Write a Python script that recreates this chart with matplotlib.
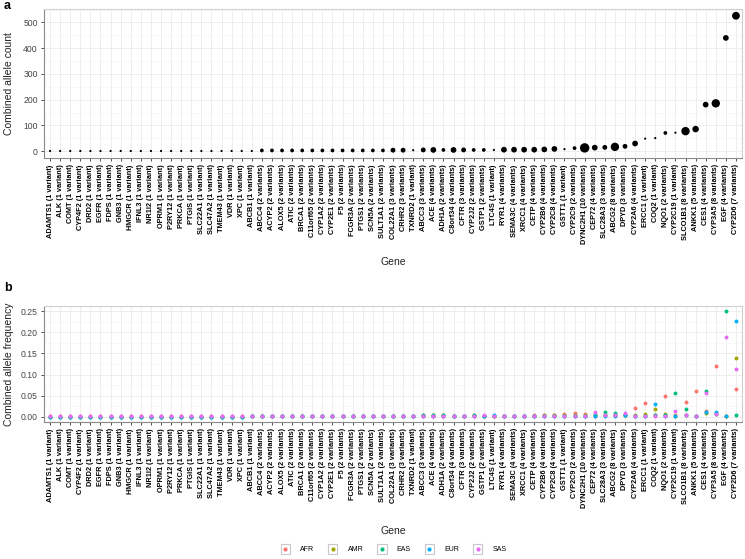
import matplotlib.pyplot as plt
import numpy as np
from matplotlib.patches import Rectangle
from matplotlib.lines import Line2D
from matplotlib.legend_handler import HandlerBase
from matplotlib.ticker import MultipleLocator, FormatStrFormatter

plt.rcParams['font.family'] = ['Liberation Sans', 'DejaVu Sans']

genes = ['ADAMTS1', 'ALK', 'COMT', 'CYP4F2', 'DRD2', 'EGFR', 'FDPS', 'GNB3', 'HMGCR', 'IFNL3',
         'NR1I2', 'OPRM1', 'P2RY12', 'PRKCA', 'PTGIS', 'SLC22A1', 'SLC47A2', 'TMEM43', 'VDR', 'XPC',
         'ABCB1', 'ABCC4', 'ACYP2', 'ALOX5', 'ATIC', 'BRCA1', 'C11orf65', 'CYP1A2', 'CYP2E1', 'F5',
         'FCGR3A', 'PTGS1', 'SCN5A', 'SULT1A1', 'COL22A1', 'CRHR2', 'TXNRD2', 'ABCC3', 'ACE', 'ADH1A',
         'C8orf34', 'CFTR', 'CYP2J2', 'GSTP1', 'LTC4S', 'RYR1', 'SEMA3C', 'XRCC1', 'CETP', 'CYP2B6',
         'CYP2C8', 'GSTT1', 'CYP2C9', 'DYNC2H1', 'CEP72', 'SLC28A3', 'ABCG2', 'DPYD', 'CYP2A6', 'ERCC1',
         'COQ2', 'NQO1', 'CYP2C19', 'SLCO1B1', 'ANKK1', 'CES1', 'CYP3A5', 'EGF', 'CYP2D6']

n_variants = [1, 1, 1, 1, 1, 1, 1, 1, 1, 1,
              1, 1, 1, 1, 1, 1, 1, 1, 1, 1,
              1, 2, 2, 2, 2, 2, 2, 2, 2, 2,
              2, 2, 2, 2, 3, 3, 1, 3, 4, 2,
              4, 3, 2, 2, 1, 4, 4, 4, 4, 4,
              4, 1, 2, 10, 4, 3, 8, 3, 4, 1,
              1, 2, 1, 8, 5, 4, 8, 4, 7]

allele_count = [1, 1, 1, 1, 1, 1, 1, 1, 1, 1,
                1, 1, 1, 1, 1, 1, 1, 1, 1, 1,
                1, 3, 3, 3, 3, 3, 3, 3, 3, 3,
                3, 3, 3, 3, 4, 4, 4, 5, 5, 5,
                5, 5, 5, 5, 5, 6, 6, 6, 6, 7,
                9, 8, 12, 13, 14, 15, 17, 19, 30, 49,
                51, 71, 72, 78, 86, 181, 186, 440, 526]

# allele frequency per super-population
afr = [0.001, 0.001, 0.001, 0.001, 0.001, 0.001, 0.001, 0.001, 0.001, 0.001,
       0.001, 0.001, 0.001, 0.001, 0.001, 0.001, 0.001, 0.001, 0.001, 0.001,
       0.001, 0.001, 0.001, 0.001, 0.001, 0.001, 0.001, 0.001, 0.001, 0.001,
       0.001, 0.001, 0.001, 0.001, 0.002, 0.002, 0.002, 0.002, 0.002, 0.002,
       0.002, 0.002, 0.002, 0.002, 0.002, 0.002, 0.002, 0.002, 0.003, 0.003,
       0.004, 0.006, 0.009, 0.007, 0.002, 0.003, 0.004, 0.005, 0.021, 0.033,
       0.004, 0.048, 0.003, 0.036, 0.062, 0.014, 0.121, 0.002, 0.066]
amr = [0.000, 0.000, 0.000, 0.000, 0.000, 0.000, 0.000, 0.000, 0.000, 0.000,
       0.000, 0.000, 0.000, 0.000, 0.000, 0.000, 0.000, 0.000, 0.000, 0.000,
       0.001, 0.001, 0.001, 0.001, 0.001, 0.001, 0.001, 0.001, 0.001, 0.001,
       0.001, 0.001, 0.001, 0.001, 0.001, 0.001, 0.001, 0.003, 0.003, 0.003,
       0.002, 0.002, 0.003, 0.002, 0.002, 0.002, 0.002, 0.002, 0.002, 0.003,
       0.003, 0.003, 0.003, 0.003, 0.003, 0.003, 0.004, 0.005, 0.003, 0.007,
       0.019, 0.006, 0.002, 0.004, 0.002, 0.008, 0.008, 0.002, 0.139]
eas = [0.000, 0.000, 0.000, 0.000, 0.000, 0.000, 0.000, 0.000, 0.000, 0.000,
       0.000, 0.000, 0.000, 0.000, 0.000, 0.000, 0.000, 0.000, 0.000, 0.000,
       0.002, 0.001, 0.001, 0.001, 0.001, 0.001, 0.001, 0.001, 0.001, 0.001,
       0.001, 0.002, 0.001, 0.001, 0.001, 0.001, 0.001, 0.003, 0.003, 0.003,
       0.002, 0.002, 0.003, 0.002, 0.002, 0.001, 0.001, 0.001, 0.001, 0.002,
       0.002, 0.001, 0.002, 0.002, 0.003, 0.011, 0.009, 0.004, 0.002, 0.002,
       0.004, 0.003, 0.056, 0.018, 0.001, 0.060, 0.007, 0.251, 0.003]
eur = [0.000, 0.000, 0.000, 0.000, 0.000, 0.000, 0.000, 0.000, 0.000, 0.000,
       0.000, 0.000, 0.000, 0.000, 0.000, 0.000, 0.000, 0.000, 0.000, 0.000,
       0.001, 0.001, 0.001, 0.001, 0.001, 0.001, 0.001, 0.001, 0.001, 0.001,
       0.001, 0.001, 0.001, 0.001, 0.001, 0.001, 0.001, 0.002, 0.002, 0.002,
       0.001, 0.002, 0.002, 0.001, 0.004, 0.001, 0.001, 0.001, 0.001, 0.001,
       0.001, 0.001, 0.001, 0.001, 0.001, 0.002, 0.002, 0.004, 0.001, 0.001,
       0.030, 0.002, 0.001, 0.004, 0.001, 0.012, 0.012, 0.001, 0.226]
sas = [0.001, 0.001, 0.001, 0.001, 0.001, 0.001, 0.001, 0.001, 0.001, 0.001,
       0.001, 0.001, 0.001, 0.001, 0.001, 0.001, 0.001, 0.001, 0.001, 0.001,
       0.002, 0.001, 0.001, 0.001, 0.001, 0.001, 0.001, 0.001, 0.001, 0.001,
       0.001, 0.002, 0.001, 0.001, 0.001, 0.001, 0.002, 0.002, 0.002, 0.002,
       0.001, 0.001, 0.001, 0.003, 0.001, 0.001, 0.001, 0.001, 0.001, 0.002,
       0.002, 0.001, 0.001, 0.001, 0.011, 0.004, 0.004, 0.009, 0.001, 0.001,
       0.002, 0.002, 0.013, 0.005, 0.001, 0.056, 0.006, 0.190, 0.113]

populations = ['AFR', 'AMR', 'EAS', 'EUR', 'SAS']
pop_colors = ['#F8766D', '#A3A500', '#00BF7D', '#00B0F6', '#E76BF3']

labels = [f"{g} ({n} variant{'s' if n > 1 else ''})" for g, n in zip(genes, n_variants)]
x = np.arange(len(genes))


class KeyBox(HandlerBase):
    # ggplot style legend key: grey square with a dot in it
    def create_artists(self, legend, orig_handle, xdescent, ydescent, width, height, fontsize, trans):
        side = height
        x0 = -xdescent + (width - side) / 2
        y0 = -ydescent
        box = Rectangle((x0, y0), side, side, facecolor='white', edgecolor='#C8C8C8',
                        linewidth=0.8, transform=trans)
        dot = Line2D([x0 + side / 2], [y0 + side / 2], marker='o', markersize=2.0,
                     linestyle='none', color=orig_handle.get_color(), transform=trans)
        return [box, dot]


def style_axes(ax, ymin, ymax, major, minor, fmt):
    ax.set_xlim(-0.6, len(genes) - 1 + 0.6)
    pad = (ymax - ymin) * 0.05
    ax.set_ylim(ymin - pad, ymax + pad)
    ax.set_xticks(x)
    ax.set_xticklabels(labels, rotation=90, fontsize=5.3, fontweight='bold', ha='center', va='top')
    ax.yaxis.set_major_locator(MultipleLocator(major))
    ax.yaxis.set_minor_locator(MultipleLocator(minor))
    ax.yaxis.set_major_formatter(FormatStrFormatter(fmt))
    ax.tick_params(axis='y', labelsize=6.2, labelcolor='#444444', length=2.5, width=0.6, color='#333333', pad=2)
    ax.tick_params(axis='x', length=2.5, width=0.6, color='#333333', pad=2)
    ax.tick_params(axis='y', which='minor', length=0)
    ax.grid(True, which='major', color='#EBEBEB', linewidth=0.6)
    ax.grid(True, which='minor', axis='y', color='#F3F3F3', linewidth=0.4)
    ax.set_axisbelow(True)
    for side in ['top', 'right']:
        ax.spines[side].set_color('#D0D0D0')
        ax.spines[side].set_linewidth(0.8)
    for side in ['left', 'bottom']:
        ax.spines[side].set_color('#8A8A8A')
        ax.spines[side].set_linewidth(0.8)


fig = plt.figure(figsize=(7.45, 5.59), dpi=100)
W, H = 745, 559
ax_a = fig.add_axes([44 / W, 1 - 158 / H, 698 / W, 149 / H])
ax_b = fig.add_axes([44 / W, 1 - 422 / H, 698 / W, 116.5 / H])

# panel a: combined allele count, dot size by number of variants
sizes = np.interp(n_variants, [1, 10], [2.5, 46.0])
ax_a.scatter(x, allele_count, s=sizes, color='black', linewidths=0, zorder=3)
style_axes(ax_a, 0, max(allele_count), 100, 50, '%d')
ax_a.set_ylabel('Combined allele count', fontsize=7.5, color='#222222')
ax_a.yaxis.set_label_coords(-0.043, 0.5)
ax_a.set_xlabel('Gene', fontsize=7.5, color='#222222')
ax_a.xaxis.set_label_coords(0.5, -0.665)

# panel b: allele frequency per population
pop_values = [afr, amr, eas, eur, sas]
for vals, col, pop in zip(pop_values, pop_colors, populations):
    ax_b.scatter(x, vals, s=8, color=col, linewidths=0, zorder=3, label=pop)
top_b = max(max(v) for v in pop_values)
style_axes(ax_b, 0, top_b, 0.05, 0.025, '%.2f')
ax_b.set_ylabel('Combined allele frequency', fontsize=7.5, color='#222222')
ax_b.yaxis.set_label_coords(-0.043, 0.5)
ax_b.set_xlabel('Gene', fontsize=7.5, color='#222222')
ax_b.xaxis.set_label_coords(0.5, -0.895)

fig.text(4 / W, 1 - 6 / H, 'a', fontsize=9, fontweight='bold', va='center', ha='left')
fig.text(4 / W, 1 - 288 / H, 'b', fontsize=9, fontweight='bold', va='center', ha='left')

handles = [Line2D([], [], color=c, marker='o', linestyle='none') for c in pop_colors]
fig.legend(handles, populations, loc='center', bbox_to_anchor=(393 / W, 1 - 549 / H),
           ncol=5, frameon=False, fontsize=5, handlelength=1.7, handleheight=1.7,
           handletextpad=1.3, columnspacing=1.8, handler_map={Line2D: KeyBox()})

fig.savefig('out.png', dpi=100)
